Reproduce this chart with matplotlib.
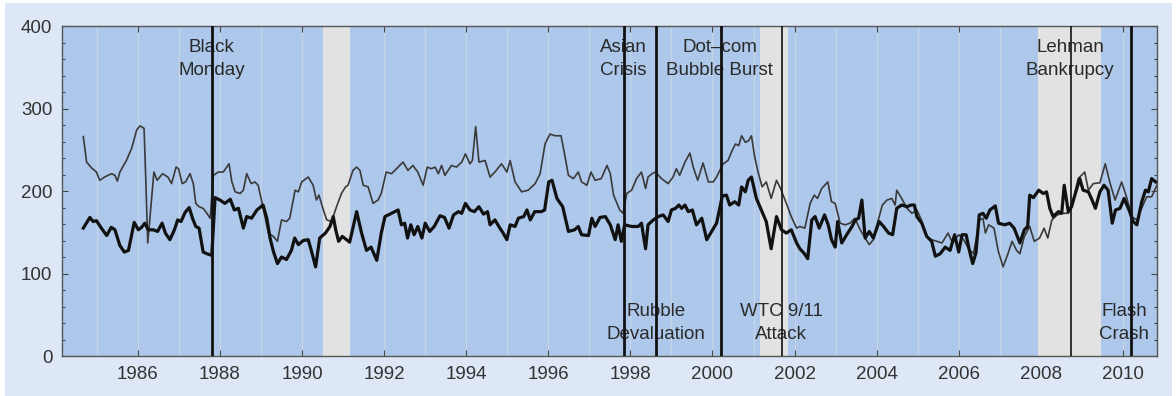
import numpy as np
import matplotlib.pyplot as plt
from matplotlib.patches import Rectangle
from matplotlib.ticker import MultipleLocator

plt.rcParams['font.family'] = ['Liberation Sans', 'DejaVu Sans']

# thick series (decimal year, value)
thick_t = [1984.67, 1984.83, 1984.91, 1984.99, 1985.11, 1985.24, 1985.35, 1985.44, 1985.56, 1985.67,
           1985.77, 1985.91, 1986.01, 1986.09, 1986.17, 1986.25, 1986.37, 1986.48, 1986.59, 1986.67,
           1986.78, 1986.89, 1986.97, 1987.05, 1987.15, 1987.25, 1987.33, 1987.41, 1987.49, 1987.59,
           1987.68, 1987.80, 1987.88, 1988.00, 1988.12, 1988.25, 1988.35, 1988.45, 1988.57, 1988.65,
           1988.77, 1988.90, 1989.05, 1989.14, 1989.22, 1989.30, 1989.40, 1989.50, 1989.62, 1989.74,
           1989.82, 1989.91, 1990.03, 1990.15, 1990.23, 1990.33, 1990.43, 1990.57, 1990.68, 1990.76,
           1990.82, 1990.89, 1990.98, 1991.16, 1991.33, 1991.45, 1991.57, 1991.68, 1991.82, 1991.93,
           1992.02, 1992.14, 1992.34, 1992.42, 1992.50, 1992.57, 1992.65, 1992.73, 1992.82, 1992.92,
           1993.00, 1993.11, 1993.22, 1993.36, 1993.47, 1993.58, 1993.69, 1993.81, 1993.89, 1993.98,
           1994.09, 1994.20, 1994.31, 1994.42, 1994.52, 1994.58, 1994.70, 1994.82, 1994.90, 1994.99,
           1995.07, 1995.19, 1995.27, 1995.40, 1995.48, 1995.56, 1995.67, 1995.83, 1995.91, 1996.01,
           1996.09, 1996.21, 1996.35, 1996.49, 1996.64, 1996.73, 1996.81, 1996.98, 1997.06, 1997.14,
           1997.26, 1997.39, 1997.51, 1997.63, 1997.70, 1997.78, 1997.86, 1998.03, 1998.19, 1998.27,
           1998.37, 1998.43, 1998.56, 1998.68, 1998.80, 1998.92, 1999.00, 1999.10, 1999.18, 1999.25,
           1999.33, 1999.41, 1999.51, 1999.61, 1999.74, 1999.86, 1999.98, 2000.10, 2000.16, 2000.24,
           2000.34, 2000.42, 2000.54, 2000.64, 2000.71, 2000.80, 2000.87, 2000.95, 2001.07, 2001.19,
           2001.31, 2001.43, 2001.56, 2001.68, 2001.80, 2001.92, 2002.05, 2002.13, 2002.24, 2002.32,
           2002.42, 2002.50, 2002.60, 2002.73, 2002.82, 2002.90, 2002.99, 2003.05, 2003.15, 2003.27,
           2003.40, 2003.48, 2003.56, 2003.64, 2003.72, 2003.82, 2003.92, 2004.06, 2004.17, 2004.29,
           2004.39, 2004.49, 2004.61, 2004.74, 2004.84, 2004.92, 2004.98, 2005.10, 2005.22, 2005.34,
           2005.43, 2005.55, 2005.67, 2005.79, 2005.90, 2006.00, 2006.08, 2006.18, 2006.26, 2006.34,
           2006.42, 2006.50, 2006.59, 2006.67, 2006.76, 2006.89, 2006.97, 2007.12, 2007.24, 2007.35,
           2007.49, 2007.60, 2007.68, 2007.73, 2007.82, 2007.95, 2008.06, 2008.14, 2008.22, 2008.30,
           2008.43, 2008.51, 2008.57, 2008.67, 2008.75, 2008.83, 2008.95, 2009.03, 2009.16, 2009.25,
           2009.33, 2009.44, 2009.54, 2009.64, 2009.74, 2009.82, 2009.93, 2010.03, 2010.15, 2010.25,
           2010.34, 2010.46, 2010.55, 2010.62, 2010.70, 2010.80]
thick_v = [155, 168, 163, 164, 155, 146, 156, 153, 134, 126,
           128, 162, 153, 156, 161, 153, 153, 151, 161, 149,
           141, 153, 165, 163, 174, 180, 167, 157, 155, 126,
           124, 122, 192, 189, 185, 190, 177, 179, 155, 169,
           167, 177, 183, 167, 143, 127, 112, 120, 117, 128,
           143, 135, 140, 141, 127, 108, 143, 149, 157, 169,
           153, 139, 145, 138, 175, 149, 128, 132, 116, 149,
           169, 172, 177, 159, 161, 143, 159, 147, 157, 143,
           161, 151, 157, 170, 168, 155, 171, 175, 173, 185,
           177, 175, 181, 172, 175, 159, 165, 155, 149, 141,
           159, 157, 167, 169, 177, 165, 175, 175, 177, 211,
           213, 191, 181, 151, 153, 157, 147, 146, 167, 157,
           168, 169, 159, 141, 159, 139, 159, 157, 157, 161,
           130, 159, 165, 169, 171, 163, 177, 179, 183, 179,
           183, 175, 177, 159, 167, 141, 151, 161, 175, 194,
           195, 183, 187, 183, 205, 199, 213, 217, 191, 177,
           163, 130, 169, 153, 149, 153, 137, 130, 124, 118,
           165, 169, 155, 171, 159, 141, 132, 163, 137, 147,
           157, 165, 167, 189, 143, 151, 143, 163, 157, 149,
           147, 179, 183, 181, 183, 183, 169, 161, 145, 139,
           121, 124, 132, 128, 147, 126, 147, 147, 128, 112,
           125, 171, 173, 167, 177, 182, 161, 159, 161, 155,
           137, 153, 157, 195, 192, 201, 197, 199, 179, 169,
           175, 173, 207, 175, 181, 195, 215, 201, 199, 189,
           179, 199, 207, 201, 161, 177, 179, 191, 177, 163,
           159, 187, 201, 199, 215, 211]

# thin series (decimal year, value)
thin_t = [1984.67, 1984.75, 1984.87, 1984.99, 1985.07, 1985.19, 1985.36, 1985.44, 1985.50, 1985.56,
          1985.72, 1985.85, 1985.97, 1986.05, 1986.15, 1986.19, 1986.24, 1986.39, 1986.47, 1986.60,
          1986.73, 1986.82, 1986.93, 1986.99, 1987.08, 1987.16, 1987.27, 1987.35, 1987.41, 1987.49,
          1987.59, 1987.68, 1987.76, 1987.84, 1987.96, 1988.08, 1988.22, 1988.29, 1988.37, 1988.49,
          1988.57, 1988.65, 1988.76, 1988.85, 1988.93, 1989.01, 1989.18, 1989.30, 1989.40, 1989.50,
          1989.62, 1989.70, 1989.83, 1989.91, 1989.99, 1990.15, 1990.27, 1990.35, 1990.41, 1990.52,
          1990.60, 1990.72, 1990.84, 1990.96, 1991.06, 1991.12, 1991.24, 1991.33, 1991.41, 1991.49,
          1991.61, 1991.73, 1991.85, 1991.93, 1992.05, 1992.18, 1992.30, 1992.46, 1992.58, 1992.70,
          1992.82, 1992.95, 1993.05, 1993.15, 1993.24, 1993.32, 1993.40, 1993.48, 1993.64, 1993.76,
          1993.89, 1993.98, 1994.09, 1994.15, 1994.23, 1994.31, 1994.46, 1994.58, 1994.70, 1994.86,
          1994.99, 1995.07, 1995.19, 1995.35, 1995.51, 1995.68, 1995.80, 1995.92, 1996.04, 1996.16,
          1996.31, 1996.41, 1996.49, 1996.61, 1996.73, 1996.81, 1996.94, 1997.04, 1997.14, 1997.29,
          1997.43, 1997.51, 1997.59, 1997.74, 1997.82, 1997.91, 1998.03, 1998.15, 1998.27, 1998.37,
          1998.43, 1998.53, 1998.61, 1998.76, 1998.92, 1999.04, 1999.12, 1999.20, 1999.33, 1999.45,
          1999.53, 1999.64, 1999.77, 1999.90, 2000.02, 2000.10, 2000.18, 2000.26, 2000.38, 2000.46,
          2000.56, 2000.64, 2000.71, 2000.80, 2000.88, 2000.95, 2001.03, 2001.11, 2001.21, 2001.31,
          2001.43, 2001.56, 2001.66, 2001.80, 2001.92, 2002.05, 2002.13, 2002.25, 2002.38, 2002.48,
          2002.56, 2002.66, 2002.81, 2002.90, 2002.99, 2003.11, 2003.23, 2003.35, 2003.47, 2003.60,
          2003.72, 2003.82, 2003.92, 2004.04, 2004.14, 2004.25, 2004.37, 2004.45, 2004.49, 2004.61,
          2004.74, 2004.86, 2004.98, 2005.09, 2005.22, 2005.34, 2005.47, 2005.59, 2005.74, 2005.85,
          2006.00, 2006.12, 2006.24, 2006.36, 2006.51, 2006.59, 2006.65, 2006.73, 2006.86, 2006.96,
          2007.08, 2007.20, 2007.30, 2007.41, 2007.49, 2007.60, 2007.73, 2007.84, 2007.97, 2008.08,
          2008.17, 2008.27, 2008.40, 2008.54, 2008.67, 2008.79, 2008.91, 2009.07, 2009.16, 2009.28,
          2009.44, 2009.57, 2009.69, 2009.81, 2009.97, 2010.10, 2010.21, 2010.34, 2010.44, 2010.58,
          2010.70, 2010.83]
thin_v = [266, 235, 228, 223, 213, 217, 221, 219, 212, 223,
          237, 252, 274, 279, 276, 217, 137, 223, 213, 221,
          217, 209, 229, 227, 209, 211, 221, 209, 185, 181,
          179, 173, 167, 219, 223, 223, 233, 211, 199, 197,
          201, 221, 209, 211, 207, 189, 149, 145, 139, 165,
          163, 167, 201, 199, 211, 217, 207, 189, 195, 177,
          165, 163, 181, 197, 205, 207, 225, 229, 225, 207,
          205, 185, 189, 197, 223, 221, 227, 235, 225, 231,
          223, 207, 229, 227, 229, 221, 231, 219, 231, 229,
          235, 245, 233, 237, 278, 235, 237, 217, 223, 233,
          223, 237, 211, 199, 201, 209, 221, 257, 269, 267,
          267, 241, 219, 215, 223, 211, 207, 223, 213, 215,
          231, 221, 195, 177, 173, 197, 201, 215, 223, 203,
          217, 221, 223, 215, 209, 217, 227, 219, 235, 246,
          229, 213, 234, 211, 211, 217, 225, 233, 237, 247,
          257, 255, 267, 259, 261, 267, 241, 223, 205, 211,
          191, 213, 203, 185, 169, 155, 157, 155, 185, 195,
          191, 203, 211, 187, 185, 161, 159, 161, 167, 153,
          143, 135, 141, 165, 183, 189, 191, 183, 201, 191,
          179, 173, 177, 165, 145, 141, 139, 137, 149, 137,
          147, 141, 130, 124, 165, 167, 149, 159, 155, 128,
          108, 124, 139, 128, 124, 145, 157, 139, 143, 155,
          143, 165, 171, 173, 173, 189, 215, 223, 201, 209,
          210, 233, 209, 189, 211, 191, 169, 165, 177, 193,
          193, 207]

recessions = [(1990.5, 1991.17), (2001.17, 2001.84), (2007.93, 2009.46)]

event_x = [1987.80, 1997.84, 1998.62, 2000.20, 2001.69, 2008.73, 2010.20]
event_lw = [2.0, 2.0, 2.0, 2.0, 1.2, 1.2, 2.0]

labels_top = ["Black\nMonday", "Asian\nCrisis", "Dot\u2013com\nBubble Burst", "Lehman\nBankrupcy"]
labels_top_x = [1987.80, 1997.82, 2000.18, 2008.71]
labels_bot = ["Rubble\nDevaluation", "WTC 9/11\nAttack", "Flash\nCrash"]
labels_bot_x = [1998.62, 2001.67, 2010.03]

fig = plt.figure(figsize=(11.76, 3.96), dpi=100)
fig.patches.append(Rectangle((0.0043, 0.0), 0.9923, 0.992, transform=fig.transFigure,
                             facecolor="#dde7f5", edgecolor="none", zorder=-10))
ax = fig.add_axes([0.0527, 0.101, 0.9311, 0.8333])
ax.set_zorder(5)
ax.set_facecolor("#adc8ea")

for yr in range(1985, 2011):
    ax.axvline(yr, color="#c6d4e8", lw=1.0, zorder=1)
for a, b in recessions:
    ax.axvspan(a, b, color="#e2e2e2", lw=0, zorder=2)

ax.plot(thin_t, thin_v, color="#3a3a3a", lw=1.2, zorder=4)
ax.plot(thick_t, thick_v, color="#111111", lw=2.3, zorder=5)

for x, lw in zip(event_x, event_lw):
    ax.axvline(x, color="#111111", lw=lw, zorder=6)

for s, x in zip(labels_top, labels_top_x):
    ax.text(x, 360, s, ha="center", va="center", fontsize=13.5, color="#2a2a2a",
            linespacing=1.4, zorder=3)
for s, x in zip(labels_bot, labels_bot_x):
    ax.text(x, 40, s, ha="center", va="center", fontsize=13.5, color="#2a2a2a",
            linespacing=1.4, zorder=3)

ax.set_xlim(1984.15, 2010.83)
ax.set_ylim(0, 400)
ax.xaxis.set_major_locator(MultipleLocator(2))
ax.yaxis.set_major_locator(MultipleLocator(100))
ax.yaxis.set_minor_locator(MultipleLocator(20))
ax.tick_params(axis="both", which="major", direction="in", length=4, width=0.8,
               color="#444444", labelsize=13.5, labelcolor="#333333", pad=7,
               top=True, right=True)
ax.tick_params(axis="y", which="minor", direction="in", length=2.5, width=0.8,
               color="#444444", right=True)
for sp in ax.spines.values():
    sp.set_color("#555555")
    sp.set_linewidth(1.0)

plt.savefig("out.png", dpi=100)
